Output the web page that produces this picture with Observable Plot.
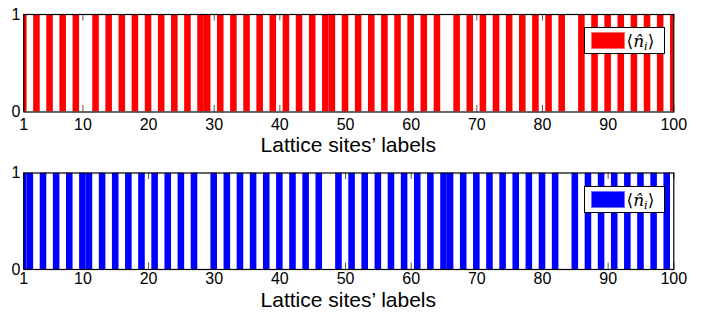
<!DOCTYPE html>
<html>
<head>
<meta charset="utf-8">
<script src="https://cdn.jsdelivr.net/npm/d3@7"></script>
<script src="https://cdn.jsdelivr.net/npm/@observablehq/plot@0.6"></script>
<style>
  html, body { margin: 0; padding: 0; background: #fff; }
  #wrap { position: relative; width: 706px; height: 312px; background: #fff; overflow: hidden; font-family: "Liberation Sans", Arial, sans-serif; }
  .panel { position: absolute; left: 0; }
  .xlabel { position: absolute; left: 23.3px; width: 650px; text-align: center; font-size: 21px; line-height: 15px; color: #000; }
  .legend { position: absolute; box-sizing: border-box; border: 1px solid #000; background: #fff; width: 81.5px; height: 27.6px; }
  .legend .patch { position: absolute; left: 6.5px; top: 4.6px; width: 33.6px; height: 16.7px; box-sizing: border-box; }
  .legend .lab { position: absolute; left: 42px; top: 0px; height: 26px; line-height: 26px; font-family: "DejaVu Serif", "Liberation Serif", serif; font-size: 17px; color: #000; white-space: nowrap; }
  .legend .lab i { font-style: italic; }
  .legend .lab sub { font-size: 11.5px; vertical-align: -3px; line-height: 0; }
</style>
</head>
<body>
<div id="wrap"></div>
<script>
// Occupied lattice sites (value 1), all other sites are 0
const sitesTop = [1,3,5,7,9,12,14,16,18,20,22,24,26,28,29,31,33,35,37,39,41,43,45,47,48,50,52,54,56,58,60,62,64,67,69,71,73,75,77,79,81,83,86,88,90,92,94,96,98,100];
const sitesBottom = [1,2,4,6,8,10,11,13,15,17,19,21,23,25,27,30,32,34,36,38,40,42,44,46,49,51,53,55,57,59,61,63,65,66,68,70,72,74,76,78,80,82,85,87,89,91,93,95,97,99];
const xTicks = [1,10,20,30,40,50,60,70,80,90,100];
const yTicks = [0,1];
const xLabel = "Lattice sites\u2019 labels";
const colors = ["#ff0000", "#0000ff"];
const patchBorders = ["#ff7070", "#7070ff"];

const wrap = document.getElementById("wrap");
const svgH = 135;
const tickLen = 6.5;

function panel(sites, color, marginTop, marginBottom, pad) {
  const data = sites.map(s => ({site: s, n: 1}));
  const plotH = svgH - marginTop - marginBottom;
  return Plot.plot({
    width: 706,
    height: svgH,
    marginLeft: 23.3,
    marginRight: 32.7,
    marginTop,
    marginBottom,
    x: {domain: [1, 100]},
    y: {domain: [0, 1]},
    style: {fontFamily: "'Liberation Sans', Arial, sans-serif", fontSize: "16px", background: "transparent", color: "#000", overflow: "visible"},
    marks: [
      Plot.tickX(xTicks, {x: d => d, insetTop: plotH - tickLen, stroke: "#555", strokeWidth: 1}),
      Plot.tickX(xTicks, {x: d => d, insetBottom: plotH - tickLen, stroke: "#555", strokeWidth: 1}),
      Plot.rectY(data, {x1: d => d.site - 0.5, x2: d => d.site + 0.5, y: "n", fill: color, clip: true}),
      Plot.frame({stroke: "#000", strokeWidth: 1.2}),
      Plot.axisX(xTicks, {tickSize: 0, tickPadding: pad, fontSize: 16, label: null, fill: "#000", tickFormat: d => String(d)}),
      Plot.axisY(yTicks, {tickSize: 0, tickPadding: 3.5, fontSize: 16, label: null, fill: "#000", tickFormat: d => String(d)})
    ]
  });
}

function addPanel(sites, idx, top, marginTop, marginBottom, pad, labelTop, legendTop) {
  const p = panel(sites, colors[idx], marginTop, marginBottom, pad);
  p.classList.add("panel");
  p.style.top = top + "px";
  wrap.appendChild(p);

  const lab = document.createElement("div");
  lab.className = "xlabel";
  lab.style.top = labelTop + "px";
  lab.textContent = xLabel;
  wrap.appendChild(lab);

  const lg = document.createElement("div");
  lg.className = "legend";
  lg.style.left = "583.5px";
  lg.style.top = legendTop + "px";
  lg.innerHTML = `<div class="patch" style="background:${colors[idx]};border:1px solid ${patchBorders[idx]}"></div>` +
    `<div class="lab">\u27E8<i>n\u0302</i><sub><i>i</i></sub>\u27E9</div>`;
  wrap.appendChild(lg);
}

addPanel(sitesTop, 0, 0, 14, 23.5, 7, 136.5, 26.7);
addPanel(sitesBottom, 1, 158, 14.5, 24, 3.5, 291.7, 185.7);
</script>
</body>
</html>
